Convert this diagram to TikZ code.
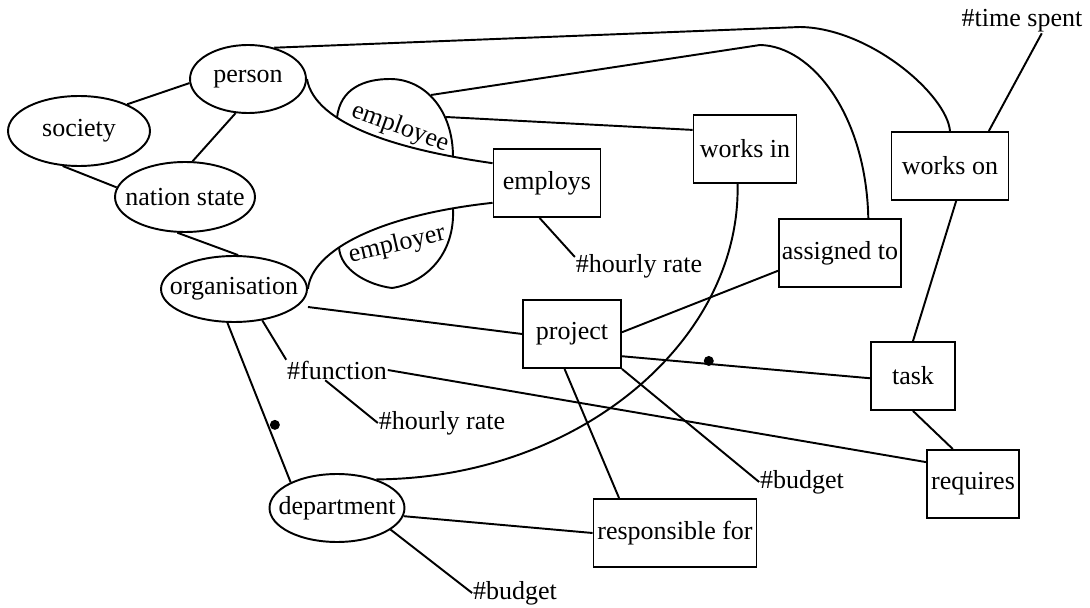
\documentclass[tikz,border=0pt]{standalone}
\usepackage{fontspec}
\setmainfont{Liberation Serif}
\usepackage{tikz}
\usetikzlibrary{shapes.geometric, calc}

\newcommand{\lbl}[1]{\makebox[0pt]{#1}}

\begin{document}
\begin{tikzpicture}[
        x=0.02cm, y=-0.02cm,
        font=\fontsize{14.8}{17}\selectfont,
        line width=1.1pt,
        entity/.style={draw, ellipse, inner sep=0pt, minimum height=1.36cm},
        rel/.style={draw, rectangle, inner sep=1pt, minimum height=1.36cm},
        attr/.style={inner sep=0pt},
        role/.style={inner sep=0pt},
        dotmark/.style={fill, circle, inner sep=0pt, minimum size=0.2cm}
    ]
    \useasboundingbox (0,0) rectangle (1090,608);

    % entities
    \node[entity, minimum width=2.32cm] (person) at (248,79) {\lbl{person}};
    \node[entity, minimum width=2.84cm, minimum height=1.4cm] (society) at (79,131) {\lbl{society}};
    \node[entity, minimum width=2.80cm, minimum height=1.4cm] (nation) at (185,197) {\lbl{nation state}};
    \node[entity, minimum width=2.92cm, minimum height=1.32cm] (org) at (234,289) {\lbl{organisation}};
    \node[entity, minimum width=2.70cm] (dept) at (337,508) {\lbl{department}};

    % relations
    \node[rel, minimum width=2.14cm] (employs) at (547,183) {employs};
    \node[rel, minimum width=2.06cm] (worksin) at (745,149) {works in};
    \node[rel, minimum width=2.34cm] (workson) at (950,166) {works on};
    \node[rel, minimum width=2.44cm] (assigned) at (840,253) {assigned to};
    \node[rel, minimum width=1.96cm] (project) at (572,334) {project};
    \node[rel, minimum width=1.68cm] (task) at (913,376) {task};
    \node[rel, minimum width=1.84cm] (requires) at (973,484) {requires};
    \node[rel, minimum width=3.26cm] (resp) at (675,533) {responsible for};

    % attributes
    \node[attr] (tspent) at (1022,21) {\#time spent};
    \node[attr] (hrate) at (639,266) {\#hourly rate};
    \node[attr] (func) at (337,370) {\#function};
    \node[attr] (hrate2) at (442,423) {\#hourly rate};
    \node[attr] (pbudget) at (802,482) {\#budget};
    \node[attr] (dbudget) at (515,593) {\#budget};

    % roles
    \node[role, rotate=-20] (employee) at (400,128) {employee};
    \node[role, rotate=13] (employer) at (397,245) {employer};

    \coordinate (topbend) at (800,27);
    \coordinate (midbend) at (760,45);
    \coordinate (ee1) at (431,95);
    \coordinate (ee2) at (446,117);

    \draw (society.29) -- (person.184);
    \draw (society.245) -- (nation.172);
    \draw (person.250) -- (nation.78);
    \draw (nation.258) -- (org.83);
    \draw (person.50) -- (topbend) .. controls (870,28) and (947,95) .. (workson.north);

    % employee
    \draw (person.east) .. controls (315,125) and (400,150) .. (employs.160);
    \draw (337,118) .. controls (340,88) and (365,79) .. (390,79) .. controls (425,79) and (453,110) .. (453,157);
    \draw (ee1) -- (midbend) .. controls (812,46) and (866,115) .. (assigned.51.5);
    \draw (ee2) -- (worksin.160);

    % employer
    \draw (org.east) .. controls (312,250) and (380,215) .. (employs.200);
    \draw (339,247) .. controls (340,270) and (368,285) .. (392,288) .. controls (425,283) and (455,255) .. (453,209);

    \draw (worksin.258) .. controls (741,340) and (580,478) .. (dept.36);

    \draw ([yshift=-0.36cm]org.east) -- (project.west);
    \draw (org.-48) -- (func.north west);
    \draw (org.259) -- (dept.151) node[dotmark, pos=.64, xshift=0.14cm] (dot1) {};
    \draw (func.east) -- (requires.155);
    \draw (func.-139) -- (hrate2.west);

    \draw (project.2) -- (assigned.196);
    \draw (project.-24) -- (task.183) node[dotmark, pos=.35, yshift=0.06cm] (dot2) {};
    \draw (project.258) -- (resp.148);
    \draw (project.south east) -- (pbudget.west);
    \draw (employs.258) -- (hrate.172);

    \draw (workson.-80) -- (task.north);
    \draw (task.south) -- (requires.120);
    \draw (tspent.-32) -- (workson.42);

    \draw (dept.-7) -- (resp.west);
    \draw (dept.-22) -- (dbudget.west);
\end{tikzpicture}
\end{document}
